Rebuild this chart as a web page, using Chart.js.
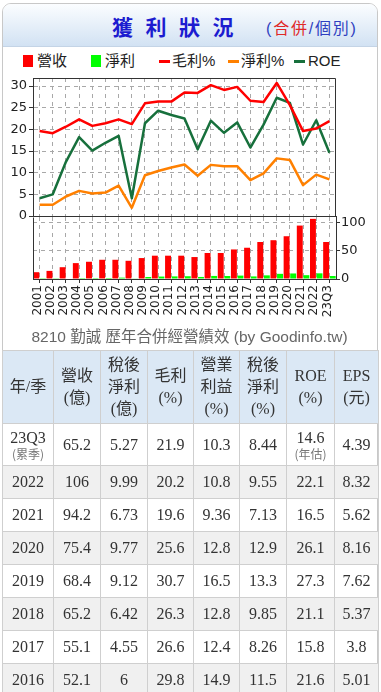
<!DOCTYPE html>
<html>
<head>
<meta charset="utf-8">
<script src="https://cdn.jsdelivr.net/npm/chart.js@4.4.0/dist/chart.umd.min.js"></script>
<style>
  body { margin: 0; width: 381px; height: 692px; overflow: hidden; background: #fff; position: relative;
         font-family: "Liberation Sans", "Noto Sans CJK TC", sans-serif; }
  .card { position: absolute; left: 2px; top: 3px; width: 376px; height: 760px; box-sizing: border-box;
          border: 1px solid #c8c8c8; border-radius: 9px 9px 0 0; overflow: hidden; }
  .head { height: 42px; background: linear-gradient(#fbfdff, #d2e2f3); border-bottom: 1px solid #c4d4e6; }
  .title { position: absolute; left: 112px; top: 15px; font-size: 21px; line-height: 22px; font-weight: bold;
           color: #1c1cd0; letter-spacing: 12.5px; font-family: "Noto Sans CJK TC"; }
  .mode { position: absolute; left: 266px; top: 20px; font-size: 16px; line-height: 17px; color: #2f3fc0;
          letter-spacing: 1.8px; }
  .mode .on { color: #e02828; }
  .legend span { position: absolute; }
  .legend .txt { top: 52px; font-size: 15px; line-height: 18px; color: #222; }
  .legend .box { top: 55px; width: 10px; height: 12px; }
  .legend .dash { top: 60px; width: 11px; height: 3px; }
  canvas { position: absolute; left: 0; }
  .caption { position: absolute; left: 0; width: 379px; top: 328px; text-align: center; font-size: 15.5px;
             line-height: 18px; color: #666; }
  table { position: absolute; left: 2px; top: 350px; width: 376px; border-collapse: collapse; table-layout: fixed;
          font-family: "Liberation Serif", "Noto Sans CJK TC", serif; color: #333; }
  th, td { border: 1px solid #cfcfcf; padding: 0; text-align: center; vertical-align: middle; font-size: 16px; }
  th { background: #dbe8f5; font-weight: normal; line-height: 22px; height: 72px; }
  td { height: 32px; }
  tr.alt td { background: #f0f0f0; }
  .sub { display: block; font-size: 12px; line-height: 14px; color: #777; font-family: "Noto Sans CJK TC"; }
  .main { display: block; line-height: 18px; }
</style>
</head>
<body>
<div class="card"><div class="head"></div></div>
<div class="title">獲利狀況</div>
<div class="mode">(<span class="on">合併</span>/個別)</div>

<div class="legend">
  <span class="box" style="left:23px;background:#ff0000"></span><span class="txt" style="left:37px">營收</span>
  <span class="box" style="left:91px;background:#00ff00"></span><span class="txt" style="left:105px">淨利</span>
  <span class="dash" style="left:159px;background:#ff0000"></span><span class="txt" style="left:172px">毛利%</span>
  <span class="dash" style="left:228px;background:#ff8000"></span><span class="txt" style="left:241px">淨利%</span>
  <span class="dash" style="left:294px;background:#17703c"></span><span class="txt" style="left:308px">ROE</span>
</div>

<canvas id="lineChart" width="381" height="150" style="top:70px"></canvas>
<canvas id="barChart" width="381" height="115" style="top:216px"></canvas>
<div class="caption">8210 勤誠 歷年合併經營績效 (by Goodinfo.tw)</div>

<table id="perf">
  <colgroup>
    <col style="width:51px"><col style="width:47px"><col style="width:47px"><col style="width:46px">
    <col style="width:46px"><col style="width:47px"><col style="width:48px"><col style="width:44px">
  </colgroup>
  <thead>
    <tr>
      <th>年/季</th><th>營收<br>(億)</th><th>稅後<br>淨利<br>(億)</th><th>毛利<br>(%)</th>
      <th>營業<br>利益<br>(%)</th><th>稅後<br>淨利<br>(%)</th><th>ROE<br>(%)</th><th>EPS<br>(元)</th>
    </tr>
  </thead>
  <tbody id="perf-body"></tbody>
</table>

<script>
const years = ["2001", "2002", "2003", "2004", "2005", "2006", "2007", "2008", "2009", "2010", "2011", "2012",
  "2013", "2014", "2015", "2016", "2017", "2018", "2019", "2020", "2021", "2022", "23Q3"];

// 億
const revenue = [12.0, 14.3, 20.8, 28.0, 30.4, 33.9, 33.9, 32.1, 36.9, 41.1, 41.1, 41.1,
  38.7, 45.8, 45.8, 52.1, 55.1, 65.2, 68.4, 75.4, 94.2, 106, 65.2];
const netIncome = [0.3, 0.4, 0.9, 1.6, 1.6, 1.8, 2.4, 0.6, 3.5, 4.3, 4.6, 4.9,
  3.6, 5.4, 5.3, 6, 4.55, 6.42, 9.12, 9.77, 6.73, 9.99, 5.27];

// %
const grossMargin = [19.6, 19.1, 20.6, 22.3, 20.8, 21.4, 22.3, 21.2, 26.0, 26.4, 26.4, 28.5,
  28.4, 30.2, 29.1, 29.8, 26.6, 26.3, 30.7, 25.6, 19.6, 20.2, 21.9];
const netMargin = [2.6, 2.6, 4.5, 5.8, 5.2, 5.4, 7.0, 1.9, 9.4, 10.4, 11.2, 11.9,
  9.3, 11.8, 11.5, 11.5, 8.26, 9.85, 13.3, 12.9, 7.13, 9.55, 8.44];
const roe = [4.1, 5.0, 12.5, 18.2, 15.1, 16.9, 18.5, 4.1, 21.4, 24.3, 23.3, 22.5,
  15.4, 22.0, 19.2, 21.6, 15.8, 21.1, 27.3, 26.1, 16.5, 22.1, 14.6];

const lineTicks = [0, 2.5, 5, 7.5, 10, 12.5, 15, 17.5, 20, 22.5, 25, 27.5, 30];
const lineTickLabels = [0, 5, 10, 15, 20, 25, 30];
const barTicks = [0, 25, 50, 75, 100];
const barTickLabels = [0, 50, 100];

// year, revenue, net income, gross %, operating %, net %, ROE, EPS
const tableRows = [
  ["23Q3", "65.2", "5.27", "21.9", "10.3", "8.44", "14.6", "4.39"],
  ["2022", "106", "9.99", "20.2", "10.8", "9.55", "22.1", "8.32"],
  ["2021", "94.2", "6.73", "19.6", "9.36", "7.13", "16.5", "5.62"],
  ["2020", "75.4", "9.77", "25.6", "12.8", "12.9", "26.1", "8.16"],
  ["2019", "68.4", "9.12", "30.7", "16.5", "13.3", "27.3", "7.62"],
  ["2018", "65.2", "6.42", "26.3", "12.8", "9.85", "21.1", "5.37"],
  ["2017", "55.1", "4.55", "26.6", "12.4", "8.26", "15.8", "3.8"],
  ["2016", "52.1", "6", "29.8", "14.9", "11.5", "21.6", "5.01"],
];

const ink = "#333";
const gridGrey = "#a8a8a8";
const tickFont = { family: "DejaVu Sans", size: 13 };

// box lines round the plot that no axis draws
const framePlugin = {
  id: "frame",
  afterDatasetsDraw(chart, args, opts) {
    const { ctx, chartArea: a } = chart;
    const l = Math.round(a.left) + 0.5;
    const r = Math.round(a.right) - 0.5;
    const t = Math.round(a.top) + 0.5;
    const b = Math.round(a.bottom);
    ctx.save();
    ctx.strokeStyle = ink;
    ctx.lineWidth = 1;
    ctx.beginPath();
    if (opts.closeTop) {
      ctx.moveTo(l, b);
      ctx.lineTo(l, t);
      ctx.lineTo(r, t);
      ctx.lineTo(r, b);
    } else {
      ctx.moveTo(l, t);
      ctx.lineTo(l, b);
    }
    ctx.stroke();
    ctx.restore();
  },
};

function useTicks(values) {
  return (scale) => {
    scale.ticks = values.map((value) => ({ value }));
  };
}

// fixed axis sizes, and no extra room kept for the end labels
function fixWidth(w) {
  return (s) => {
    s.width = w;
    s.paddingTop = 0;
    s.paddingBottom = 0;
  };
}

function fixHeight(h) {
  return (s) => {
    s.height = h;
    s.paddingLeft = 0;
    s.paddingRight = 0;
  };
}

function lineSet(label, data, color) {
  return {
    label,
    data,
    borderColor: color,
    backgroundColor: color,
    borderWidth: 2.5,
    pointRadius: 0,
    tension: 0,
    borderJoinStyle: "round",
  };
}

new Chart(document.getElementById("lineChart"), {
  type: "line",
  data: {
    labels: years,
    datasets: [
      lineSet("毛利%", grossMargin, "#ff0000"),
      lineSet("淨利%", netMargin, "#ff8000"),
      lineSet("ROE", roe, "#17703c"),
    ],
  },
  options: {
    responsive: false,
    animation: false,
    devicePixelRatio: 1,
    layout: { padding: { top: 8, right: 45, left: 0, bottom: 0 } },
    plugins: { legend: { display: false }, tooltip: { enabled: false }, frame: { closeTop: true } },
    scales: {
      x: {
        type: "category",
        offset: true,
        ticks: { display: false },
        grid: { offset: false, color: gridGrey, drawTicks: false },
        border: { color: ink, dash: [4, 4] },
        afterFit: fixHeight(4),
      },
      y: {
        min: 0,
        max: 31.85,
        afterBuildTicks: useTicks(lineTicks),
        ticks: {
          font: tickFont,
          color: "#222",
          padding: 2,
          callback: (v) => (lineTickLabels.includes(v) ? v : ""),
        },
        grid: {
          color: (c) => (c.tick && c.tick.value === 0 ? "rgba(0,0,0,0)" : gridGrey),
          tickColor: ink,
          tickLength: 4,
        },
        border: { color: ink, dash: [4, 4] },
        afterFit: fixWidth(33),
      },
    },
  },
  plugins: [framePlugin],
});

new Chart(document.getElementById("barChart"), {
  type: "bar",
  data: {
    labels: years,
    datasets: [
      { label: "營收", data: revenue, backgroundColor: "#ff0000" },
      { label: "淨利", data: netIncome, backgroundColor: "#00ff00" },
    ],
  },
  options: {
    responsive: false,
    animation: false,
    devicePixelRatio: 1,
    barPercentage: 0.9,
    categoryPercentage: 1,
    layout: { padding: { top: 1, right: 0, left: 33, bottom: 0 } },
    plugins: { legend: { display: false }, tooltip: { enabled: false }, frame: { closeTop: false } },
    scales: {
      x: {
        ticks: {
          autoSkip: false,
          minRotation: 90,
          maxRotation: 90,
          padding: 2,
          labelOffset: -2,
          color: "#222",
          font: { family: "DejaVu Sans", size: 12 },
        },
        grid: { offset: false, color: gridGrey, tickColor: ink, tickLength: 4 },
        border: { color: ink, dash: [4, 4] },
        afterFit: fixHeight(52),
      },
      y: {
        position: "right",
        min: 0,
        max: 109.3,
        afterBuildTicks: useTicks(barTicks),
        ticks: {
          font: tickFont,
          color: "#222",
          padding: 1,
          callback: (v) => (barTickLabels.includes(v) ? v : ""),
        },
        grid: {
          color: (c) => (c.tick && c.tick.value % 50 === 0 && c.tick.value > 0 ? gridGrey : "rgba(0,0,0,0)"),
          tickColor: ink,
          tickLength: 4,
        },
        border: { color: ink, dash: [4, 4] },
        afterFit: fixWidth(45),
      },
    },
  },
  plugins: [framePlugin],
});

const body = document.getElementById("perf-body");
body.innerHTML = tableRows
  .map((row, i) => {
    const cells = row.map((value, col) => {
      if (i === 0 && col === 0) {
        return `<td style="height:41px"><span class="main">${value}</span><span class="sub">(累季)</span></td>`;
      }
      if (i === 0 && col === 6) {
        return `<td><span class="main">${value}</span><span class="sub">(年估)</span></td>`;
      }
      return `<td>${value}</td>`;
    });
    return `<tr class="${i % 2 === 1 ? "alt" : ""}">${cells.join("")}</tr>`;
  })
  .join("");
</script>
</body>
</html>
